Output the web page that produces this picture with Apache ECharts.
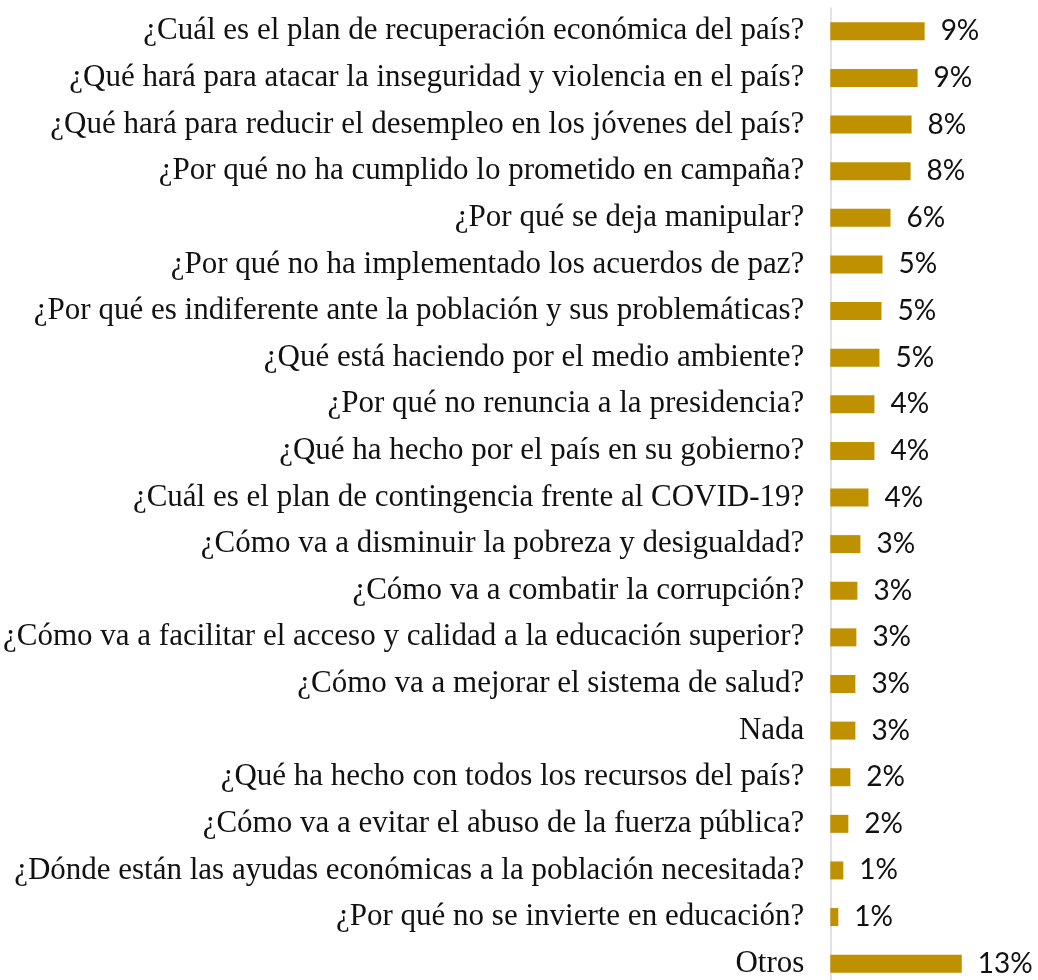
<!DOCTYPE html>
<html>
<head>
<meta charset="utf-8">
<style>
  html, body { margin: 0; padding: 0; background: #ffffff; overflow: hidden; }
  #chart { width: 1038px; height: 988px; }
</style>
<script src="https://cdn.jsdelivr.net/npm/echarts@6/dist/echarts.min.js"></script>
</head>
<body>
<div id="chart"></div>
<script>
// Questions, top to bottom
const questions = [
  '¿Cuál es el plan de recuperación económica del país?',
  '¿Qué hará para atacar la inseguridad y violencia en el país?',
  '¿Qué hará para reducir el desempleo en los jóvenes del país?',
  '¿Por qué no ha cumplido lo prometido en campaña?',
  '¿Por qué se deja manipular?',
  '¿Por qué no ha implementado los acuerdos de paz?',
  '¿Por qué es indiferente ante la población y sus problemáticas?',
  '¿Qué está haciendo por el medio ambiente?',
  '¿Por qué no renuncia a la presidencia?',
  '¿Qué ha hecho por el país en su gobierno?',
  '¿Cuál es el plan de contingencia frente al COVID-19?',
  '¿Cómo va a disminuir la pobreza y desigualdad?',
  '¿Cómo va a combatir la corrupción?',
  '¿Cómo va a facilitar el acceso y calidad a la educación superior?',
  '¿Cómo va a mejorar el sistema de salud?',
  'Nada',
  '¿Qué ha hecho con todos los recursos del país?',
  '¿Cómo va a evitar el abuso de la fuerza pública?',
  '¿Dónde están las ayudas económicas a la población necesitada?',
  '¿Por qué no se invierte en educación?',
  'Otros'
];

// Share of responses (%)
const shares = [
  9.4, 8.7, 8.1, 8.0, 6.0, 5.2, 5.1, 4.9, 4.4, 4.4,
  3.8, 3.0, 2.7, 2.6, 2.5, 2.5, 2.0, 1.8, 1.3, 0.8,
  13.1
];

const chart = echarts.init(document.getElementById('chart'), null, { renderer: 'canvas' });

chart.setOption({
  animation: false,
  backgroundColor: '#ffffff',
  // the plot area runs slightly past the visible page, so the last row sits at the bottom edge
  grid: { left: 828, top: 8, width: 203, height: 979, containLabel: false },
  xAxis: {
    type: 'value',
    min: 0,
    max: 20,
    show: false
  },
  yAxis: {
    type: 'category',
    data: questions,
    inverse: true,
    axisLine: { show: true, lineStyle: { color: '#d9d9d9', width: 1.5 } },
    axisTick: { show: false },
    axisLabel: {
      margin: 26,
      color: '#111111',
      fontFamily: '"Liberation Serif", "DejaVu Serif", serif',
      fontSize: 31
    }
  },
  series: [{
    type: 'bar',
    data: shares,
    barWidth: 18,
    itemStyle: { color: '#BF9000' },
    label: {
      show: true,
      position: 'right',
      distance: 16,
      color: '#111111',
      fontFamily: 'Lato, "Open Sans", sans-serif',
      fontSize: 28,
      formatter: p => Math.round(p.value) + '%'
    }
  }]
});
</script>
</body>
</html>
